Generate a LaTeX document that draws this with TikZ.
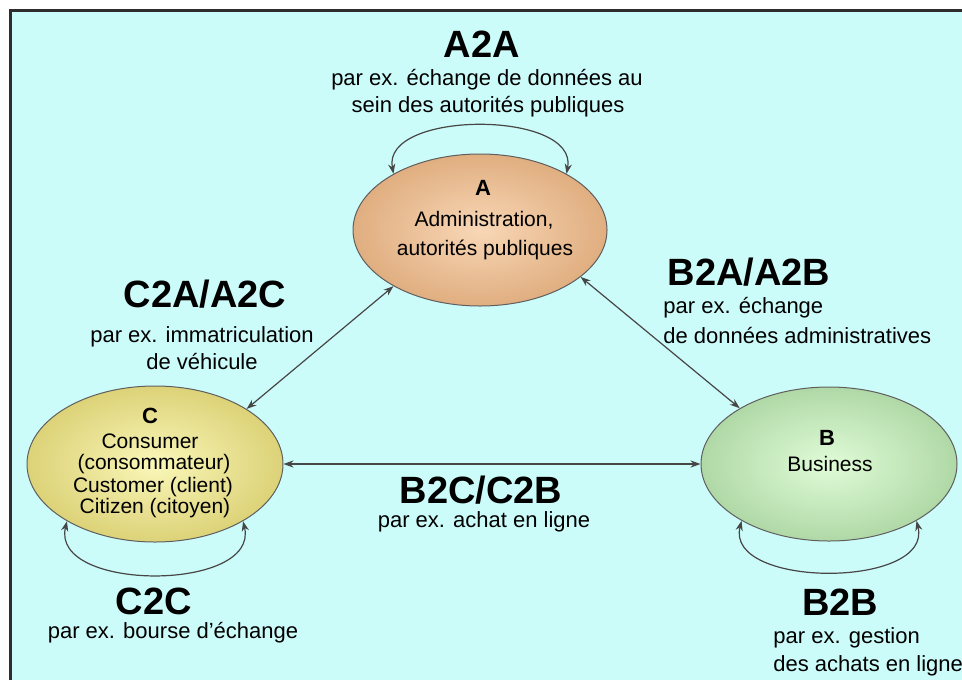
\documentclass[tikz,border=0pt]{standalone}
\usepackage{fontspec}
\setmainfont{Liberation Sans}
\usetikzlibrary{shapes.geometric,arrows.meta}
\definecolor{bgcyan}{RGB}{204,252,250}
\definecolor{framedark}{RGB}{45,45,45}
\definecolor{ellgray}{RGB}{95,95,95}
\definecolor{arrowgray}{RGB}{70,70,70}
\definecolor{Ain}{RGB}{248,215,182}
\definecolor{Aout}{RGB}{224,174,128}
\definecolor{Cin}{RGB}{250,247,185}
\definecolor{Cout}{RGB}{220,210,120}
\definecolor{Bin}{RGB}{224,252,216}
\definecolor{Bout}{RGB}{176,216,166}
\begin{document}
\begin{tikzpicture}[x=0.5pt,y=-0.5pt,
  lab/.style={font=\fontsize{11}{13}\selectfont, anchor=base, inner sep=0pt},
  big/.style={font=\fontsize{19}{22}\selectfont\bfseries, anchor=base, inner sep=0pt},
  etxt/.style={font=\fontsize{10.5}{12}\selectfont, anchor=base, inner sep=0pt},
  elet/.style={font=\fontsize{11}{12}\selectfont\bfseries, anchor=base, inner sep=0pt},
  ent/.style={ellipse, draw=ellgray, line width=0.5pt, inner sep=0pt},
  conn/.style={draw=arrowgray, line width=0.6pt, {Stealth[length=5pt,width=3.6pt]}-{Stealth[length=5pt,width=3.6pt]}}]
\useasboundingbox (0,0) rectangle (962,680);
\fill[white] (0,0) rectangle (962,680);
\fill[bgcyan] (10,10) rectangle (962,680);
\draw[framedark, line width=1.4pt] (10.5,680) -- (10.5,10.5) -- (962,10.5);

% entities
\node[ent, shade, inner color=Ain, outer color=Aout, minimum width=127pt, minimum height=76pt] (A) at (480,230) {};
\node[ent, shade, inner color=Cin, outer color=Cout, minimum width=128pt, minimum height=78pt] (C) at (155,464) {};
\node[ent, shade, inner color=Bin, outer color=Bout, minimum width=128pt, minimum height=77pt] (B) at (829,464) {};

% entity texts
\node[elet] (Aa) at (483,195) {A};
\node[etxt] (Ab) at (484,226) {Administration,};
\node[etxt] (Ac) at (485,255) {autorités publiques};
\node[elet] (Ca) at (150,423) {C};
\node[etxt] (Cb) at (150,448) {Consumer};
\node[etxt] (Cc) at (154,469) {(consommateur)};
\node[etxt] (Cd) at (153,492) {Customer (client)};
\node[etxt] (Ce) at (155,513) {Citizen (citoyen)};
\node[elet] (Ba) at (827,445) {B};
\node[etxt] (Bb) at (830,471) {Business};

% connectors
\draw[conn] (A.213) -- (C.31);
\draw[conn] (A.335) -- (B.148);
\draw[conn] (C.east) -- (B.west);
\draw[conn] (A.147) .. controls +(-12,-64) and +(12,-64) .. (A.33);
\draw[conn] (C.213) .. controls +(-17,71) and +(17,71) .. (C.327);
\draw[conn] (B.213) .. controls +(-17,68) and +(17,68) .. (B.327);

% labels
\node[big] (tA2A) at (482,57) {A2A};
\node[lab] (tA2Aa) at (487,85) {par ex. échange de données au};
\node[lab] (tA2Ab) at (488,112) {sein des autorités publiques};
\node[big] (tC2A) at (205,307) {C2A/A2C};
\node[lab] (tC2Aa) at (202,342) {par ex. immatriculation};
\node[lab] (tC2Ab) at (202,369) {de véhicule};
\node[big] (tB2A) at (749,285) {B2A/A2B};
\node[lab, anchor=base west] (tB2Aa) at (663,313) {par ex. échange};
\node[lab, anchor=base west] (tB2Ab) at (663,343) {de données administratives};
\node[big] (tB2C) at (481,503) {B2C/C2B};
\node[lab] (tB2Ca) at (484,527) {par ex. achat en ligne};
\node[big] (tC2C) at (154,614) {C2C};
\node[lab] (tC2Ca) at (173,638) {par ex. bourse d'échange};
\node[big] (tB2B) at (840,615) {B2B};
\node[lab, anchor=base west] (tB2Ba) at (773,643) {par ex. gestion};
\node[lab, anchor=base west] (tB2Bb) at (773,671) {des achats en ligne};
\end{tikzpicture}
\end{document}
